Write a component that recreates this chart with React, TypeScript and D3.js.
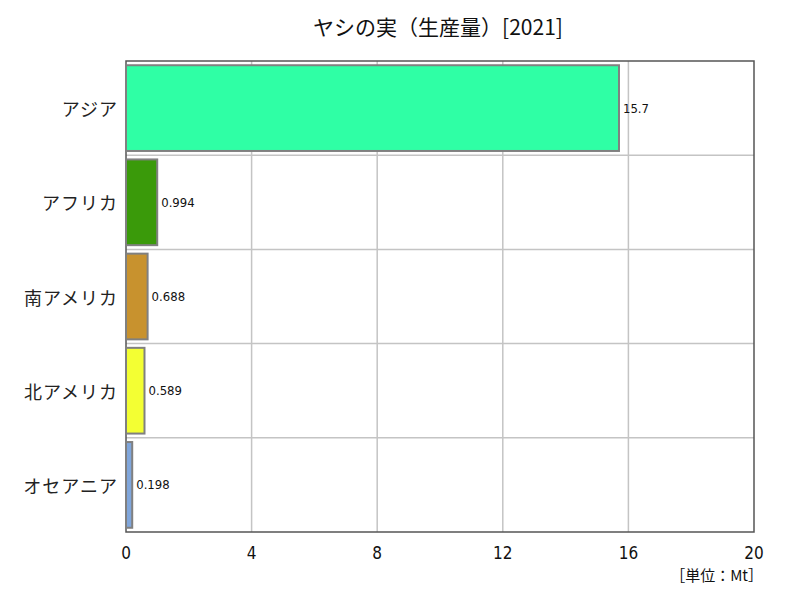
import React from "react";
import * as d3 from "d3";

const categories = ["アジア", "アフリカ", "南アメリカ", "北アメリカ", "オセアニア"];
const values = [15.7, 0.994, 0.688, 0.589, 0.198];
const valueLabels = ["15.7", "0.994", "0.688", "0.589", "0.198"];
const colors = ["#2fffa5", "#3a9a0a", "#c8922e", "#f3ff33", "#80a6db"];
const ticks = [0, 4, 8, 12, 16, 20];
const title = "ヤシの実（生産量）[2021]";
const unit = "［単位：Mt］";

const W = 800, H = 600;
const M = { left: 126, right: 754, top: 61, bottom: 532 };
const JP = "'Noto Sans CJK JP', 'Noto Sans', sans-serif";
const NUM = "'Liberation Sans Narrow', 'DejaVu Sans Condensed', 'Noto Sans', sans-serif";

export default function App() {
  const x = d3.scaleLinear().domain([0, 20]).range([M.left, M.right]);
  const y = d3.scaleBand().domain(categories).range([M.top, M.bottom]).paddingInner(0.09).paddingOuter(0.045);
  const rowH = (M.bottom - M.top) / categories.length;
  return (
    <svg width={W} height={H} style={{ position: "absolute", left: 0, top: 0, background: "#fff" }}>
      <rect x={0} y={0} width={W} height={H} fill="#fff" />
      <text x={438} y={35} textAnchor="middle" fontFamily={JP} fontSize={21} fill="#111">{title}</text>
      {ticks.slice(1, -1).map((t) => (
        <line key={"v" + t} x1={x(t)} x2={x(t)} y1={M.top} y2={M.bottom} stroke="#c4c4c4" strokeWidth={1.5} />
      ))}
      {categories.slice(1).map((c, i) => (
        <line key={"h" + c} x1={M.left} x2={M.right} y1={M.top + rowH * (i + 1)} y2={M.top + rowH * (i + 1)} stroke="#c4c4c4" strokeWidth={1.5} />
      ))}
      <rect x={M.left} y={M.top} width={M.right - M.left} height={M.bottom - M.top} fill="none" stroke="#555" strokeWidth={1.5} />
      {categories.map((c, i) => (
        <g key={c}>
          <rect x={x(0)} y={y(c)!} width={x(values[i]) - x(0)} height={y.bandwidth()} fill={colors[i]} stroke="#808080" strokeWidth={2} />
          <text x={x(values[i]) + 4} y={y(c)! + y.bandwidth() / 2} dominantBaseline="central" fontFamily={NUM} fontSize={13} fill="#111">{valueLabels[i]}</text>
          <text x={118} y={y(c)! + y.bandwidth() / 2} dominantBaseline="central" textAnchor="end" fontFamily={JP} fontSize={18} letterSpacing={1} fill="#222">{c}</text>
        </g>
      ))}
      {ticks.map((t) => (
        <text key={"t" + t} x={x(t)} y={559} textAnchor="middle" fontFamily={NUM} fontSize={17} fill="#111">{t}</text>
      ))}
      <text x={763} y={581} textAnchor="end" fontFamily={JP} fontSize={15} fill="#111">{unit}</text>
    </svg>
  );
}
